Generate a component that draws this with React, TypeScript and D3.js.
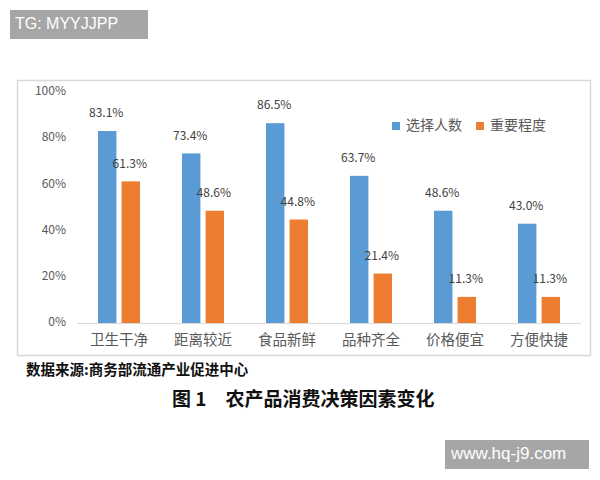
import React from "react";
import * as d3 from "d3";

const categories = ["卫生干净", "距离较近", "食品新鲜", "品种齐全", "价格便宜", "方便快捷"];
const seriesNames = ["选择人数", "重要程度"];
const selectCount = [0.831, 0.734, 0.865, 0.637, 0.486, 0.43];
const importance = [0.613, 0.486, 0.448, 0.214, 0.113, 0.113];
const yTicks = [0, 0.2, 0.4, 0.6, 0.8, 1.0];
const colors = ["#5b9bd5", "#ed7d31"];
const sourceText = "数据来源:商务部流通产业促进中心";
const titleText = "图 1　农产品消费决策因素变化";

const W = 600;
const H = 480;
const FONT = "'Noto Sans CJK SC', 'Noto Sans', sans-serif";

export default function App() {
  const x = d3.scaleBand<string>().domain(categories).range([77, 581]).paddingInner(0.5).paddingOuter(0.25);
  const xi = d3.scaleBand<string>().domain(seriesNames).range([0, x.bandwidth()]).paddingInner(0.22);
  const y = d3.scaleLinear().domain([0, 1]).range([323, 92]);
  const values = [selectCount, importance];
  const fmt = d3.format(".1%");
  const tickFmt = d3.format(".0%");

  return (
    <svg width={W} height={H} style={{ position: "absolute", left: 0, top: 0, background: "#fff" }} fontFamily={FONT}>
      <rect x={0} y={0} width={W} height={H} fill="#fff" />
      {/* chart frame */}
      <rect x={17.5} y={80.5} width={573} height={275} fill="#fff" stroke="#d9d9d9" strokeWidth={1.5} />
      {/* y tick labels */}
      {yTicks.map((t) => (
        <text key={t} x={66} y={y(t)} textAnchor="end" dominantBaseline="middle" fontSize={12} fill="#595959">
          {tickFmt(t)}
        </text>
      ))}
      {/* axis line */}
      <line x1={77} x2={581} y1={y(0) + 0.5} y2={y(0) + 0.5} stroke="#d9d9d9" strokeWidth={1} />
      {/* bars */}
      {categories.map((c, i) => (
        <g key={c} transform={`translate(${x(c)},0)`}>
          {seriesNames.map((s, j) => {
            const v = values[j][i];
            const bx = xi(s)!;
            return (
              <g key={s}>
                <rect x={bx} y={y(v)} width={xi.bandwidth()} height={y(0) - y(v)} fill={colors[j]} />
                <text
                  x={bx + xi.bandwidth() / 2 - 1}
                  y={y(v) - 17}
                  textAnchor="middle"
                  dominantBaseline="middle"
                  fontSize={12}
                  fill="#404040"
                >
                  {fmt(v)}
                </text>
              </g>
            );
          })}
          <text x={x.bandwidth() / 2} y={341} textAnchor="middle" dominantBaseline="middle" fontSize={14.5} fill="#595959">
            {c}
          </text>
        </g>
      ))}
      {/* legend */}
      {seriesNames.map((s, j) => (
        <g key={s} transform={`translate(${392 + j * 84},126)`}>
          <rect x={0} y={-4} width={8} height={8} fill={colors[j]} />
          <text x={14} y={0} dominantBaseline="middle" fontSize={14} fill="#595959">
            {s}
          </text>
        </g>
      ))}
      {/* source */}
      <text x={26} y={371} dominantBaseline="middle" fontSize={14.5} fontWeight="bold" fill="#111">
        {sourceText}
      </text>
      {/* title */}
      <text x={172} y={401} dominantBaseline="middle" fontSize={19} fontWeight="bold" fill="#111">
        {titleText}
      </text>
      {/* watermarks */}
      <rect x={10} y={10} width={138} height={29} fill="#a6a6a6" />
      <text x={15} y={25} dominantBaseline="middle" fontSize={16} fill="#fff" fontFamily="'Liberation Sans', Arial, sans-serif">
        TG: MYYJJPP
      </text>
      <rect x={445} y={440} width={144} height={29} fill="#a6a6a6" />
      <text x={451} y={455} dominantBaseline="middle" fontSize={17} fill="#fff" fontFamily="'Liberation Sans', Arial, sans-serif">
        www.hq-j9.com
      </text>
    </svg>
  );
}
